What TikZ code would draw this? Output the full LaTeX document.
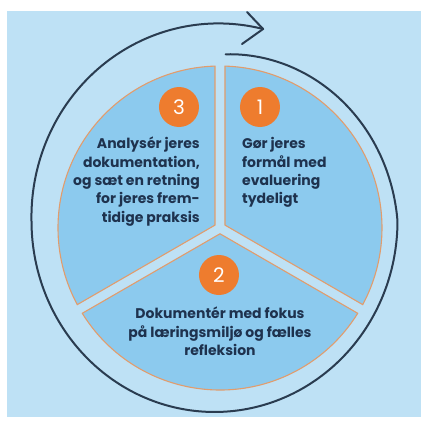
\documentclass[tikz,border=0pt]{standalone}
\usepackage{fontspec}
\setmainfont{Poppins}
\usetikzlibrary{calc}
\definecolor{bgblue}{RGB}{190,225,245}
\definecolor{pieblue}{RGB}{140,202,238}
\definecolor{rimorange}{RGB}{226,156,108}
\definecolor{dotorange}{RGB}{238,124,46}
\definecolor{inknavy}{RGB}{30,50,78}
\definecolor{loopnavy}{RGB}{42,60,80}
\tikzset{
  slice/.style={fill=pieblue, draw=rimorange, line width=1.1pt},
  loopline/.style={line width=2pt, color=loopnavy, line cap=round, line join=round},
  numdot/.style={circle, fill=dotorange, text=white, minimum size=40pt, inner sep=0pt, font=\fontsize{20}{20}\selectfont},
  steptext/.style={text=inknavy, font=\fontsize{14}{18.3}\selectfont\bfseries, inner sep=0pt}
}
\def\pieslice(#1)(#2:#3){\draw[slice] (#1) -- (#2:162) arc (#2:#3:162) -- cycle;}

\begin{document}
\begin{tikzpicture}[x=1pt, y=1pt]
			%%%%% START %%%%%
			\useasboundingbox (-220, -196) rectangle (202, 228);
			\fill[bgblue] (-213, -189) rectangle (201, 217);
			
			% the three slices
			\pieslice(5, 2.89)(88.23:-28.23)
			\pieslice(-5, 2.89)(91.77:208.23)
			\pieslice(0, -5.77)(211.77:328.23)
			
			% loop round the pie
			\draw[loopline] plot[domain=86:-284.8, samples=160, smooth, variable=\u]
				({-5.5 + (1 - 0.125*max(\u,0)/86 + 0.04*max(-180-\u,0)/105)*183*cos(\u)},
				 {7 + (1 - 0.125*max(\u,0)/86 + 0.04*max(-180-\u,0)/105)*191*sin(\u)});
			\coordinate (tip) at (43.1, 199);
			\coordinate (barbup) at (27, 216);
			\coordinate (barbdown) at (22, 184);
			\draw[loopline] (barbup) -- (tip) -- (barbdown);
			
			% numbers
			\node[numdot] (numthree) at (-41, 121) {3};
			\node[numdot] (numone) at (40, 121) {1};
			\node[numdot] (numtwo) at (-1, -47) {2};
			
			% texts
			\node[steptext, align=right, anchor=east] (txtthree) at (-20, 46.5)
				{Analysér jeres\\dokumentation,\\og sæt en retning\\for jeres frem-\\tidige praksis};
			\node[steptext, align=left, anchor=west] (txtone) at (22, 55.5)
				{Gør jeres\\formål med\\evaluering\\tydeligt};
			\node[steptext, align=center] (txttwo) at (0, -103.5)
				{Dokumentér med fokus\\på læringsmiljø og fælles\\refleksion};
			%%%%% END %%%%%
\end{tikzpicture}
\end{document}
